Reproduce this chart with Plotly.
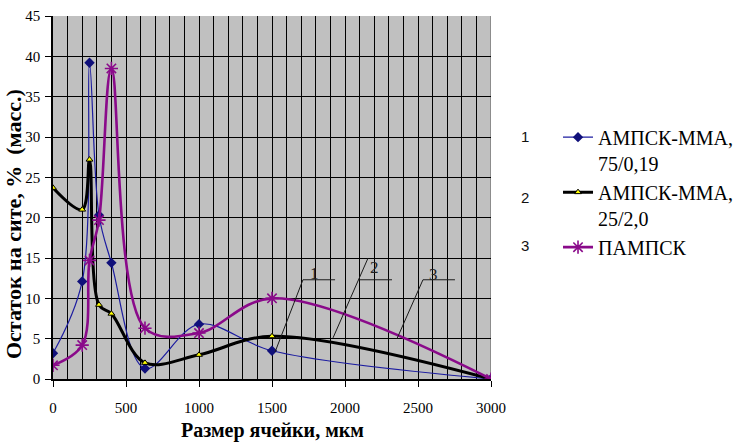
import plotly.graph_objects as go

# Sieve cell size, µm
cell_size = [0, 200, 250, 315, 400, 630, 1000, 1500, 3000]

# Residue on sieve, % (mass)
ampsk_mma_75 = [3.2, 12.1, 39.2, 20.3, 14.4, 1.3, 6.8, 3.5, 0.0]
ampsk_mma_25 = [23.7, 21.0, 27.2, 9.2, 8.1, 2.0, 3.0, 5.3, 0.0]
pampsk = [1.7, 4.2, 14.7, 19.7, 38.5, 6.3, 5.7, 10.0, 0.0]

series_names = ["АМПСК-ММА,<br>75/0,19", "АМПСК-ММА,<br>25/2,0", "ПАМПСК"]
x_ticks = [0, 500, 1000, 1500, 2000, 2500, 3000]
y_ticks = [0, 5, 10, 15, 20, 25, 30, 35, 40, 45]

SERIF = "Liberation Serif, Times New Roman, serif"

fig = go.Figure()

fig.add_trace(go.Scatter(
    x=cell_size, y=ampsk_mma_75, name=series_names[0],
    mode="lines+markers",
    line=dict(color="#1C1CA0", width=1.2, shape="spline", smoothing=1.0),
    marker=dict(symbol="diamond", size=8, color="#10107A"),
))
fig.add_trace(go.Scatter(
    x=cell_size, y=ampsk_mma_25, name=series_names[1],
    mode="lines+markers",
    line=dict(color="#000000", width=3, shape="spline", smoothing=1.0),
    marker=dict(symbol="triangle-up", size=6, color="#FFFF00",
                line=dict(color="#000000", width=1)),
))
fig.add_trace(go.Scatter(
    x=cell_size, y=pampsk, name=series_names[2],
    mode="lines+markers",
    line=dict(color="#8A0A8A", width=2.6, shape="spline", smoothing=1.0),
    marker=dict(symbol="asterisk-open", size=11,
                line=dict(color="#8A0A8A", width=1.6)),
))

# leader lines for the curve numbers inside the plot
leaders = [
    [(1521, 3.35), (1712, 12.3), (1932, 12.3)],
    [(1918, 5.1), (2158, 15.0)],
    [(2095, 12.3), (2322, 12.3)],
    [(2356, 5.0), (2534, 12.3), (2753, 12.3)],
]
shapes = []
for pts in leaders:
    path = "M " + " L ".join(f"{x},{y}" for x, y in pts)
    shapes.append(dict(type="path", path=path, xref="x", yref="y",
                       line=dict(color="#1A1A1A", width=1), layer="above"))
# plot-area frame on the right
shapes.append(dict(type="line", xref="x", yref="paper", x0=3000, x1=3000,
                   y0=0, y1=1, line=dict(color="#8C8C8C", width=2),
                   layer="between"))

annotations = []
for txt, x, y in [("1", 1788, 13.1), ("2", 2205, 13.8), ("3", 2603, 12.9)]:
    annotations.append(dict(x=x, y=y, xref="x", yref="y", text=txt,
                            showarrow=False, xanchor="center", yanchor="middle",
                            font=dict(family=SERIF, size=17, color="#222222")))

# legend numbering
for txt, y in [("1", 0.667), ("2", 0.501), ("3", 0.369)]:
    annotations.append(dict(x=1.078, y=y, xref="paper", yref="paper", text=txt,
                            showarrow=False, xanchor="center", yanchor="middle",
                            font=dict(family="Liberation Sans, Arial, sans-serif",
                                      size=15, color="#111111")))

# axis titles
annotations.append(dict(x=0.5, y=-0.143, xref="paper", yref="paper",
                        text="Размер ячейки, мкм", showarrow=False,
                        xanchor="center", yanchor="middle",
                        font=dict(family=SERIF, size=20, color="#000000",
                                  weight="bold")))
annotations.append(dict(x=-0.089, y=0.427, xref="paper", yref="paper",
                        text="Остаток на сите, %  (масс.)", showarrow=False,
                        textangle=-90, xanchor="center", yanchor="middle",
                        font=dict(family=SERIF, size=22, color="#000000",
                                  weight="bold")))

fig.update_layout(
    width=733, height=443,
    margin=dict(l=53, r=242, t=16, b=64, autoexpand=False),
    paper_bgcolor="#FFFFFF",
    plot_bgcolor="#C0C0C0",
    showlegend=True,
    legend=dict(x=1.153, y=0.72, xanchor="left", yanchor="top",
                font=dict(family=SERIF, size=20, color="#000000"),
                valign="top", bgcolor="rgba(0,0,0,0)",
                tracegroupgap=5, itemwidth=30),
    shapes=shapes,
    annotations=annotations,
)

fig.update_xaxes(
    range=[0, 3000], tickvals=x_ticks, ticktext=[str(v) for v in x_ticks],
    showgrid=True, gridcolor="#000000", gridwidth=1.4,
    minor=dict(dtick=100, tick0=0, showgrid=True, gridcolor="#000000",
               gridwidth=1.4, ticks=""),
    ticks="outside", ticklen=6, tickcolor="#000000", tickwidth=1.2,
    showline=True, linecolor="#000000", linewidth=1.5,
    zeroline=False, ticklabelstandoff=8,
    tickfont=dict(family=SERIF, size=15, color="#000000"),
)
fig.update_yaxes(
    range=[0, 45], tickvals=y_ticks,
    showgrid=True, gridcolor="#000000", gridwidth=1.4,
    ticks="outside", ticklen=6, tickcolor="#000000", tickwidth=1.2,
    showline=True, linecolor="#000000", linewidth=1.5,
    zeroline=False, ticklabelstandoff=2,
    tickfont=dict(family=SERIF, size=15, color="#000000"),
)

fig.write_html("out.html")
